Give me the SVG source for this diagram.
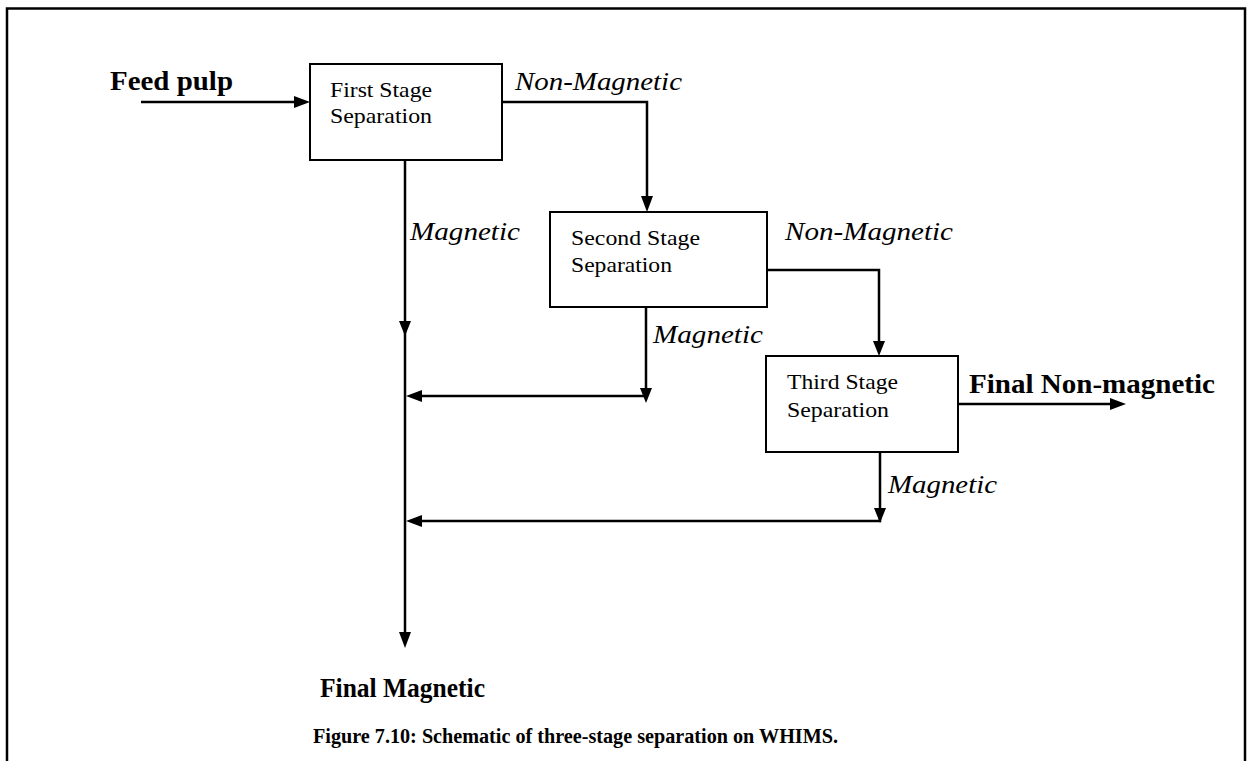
<svg xmlns="http://www.w3.org/2000/svg" width="1248" height="761" viewBox="0 0 1248 761">
<style>
text{font-family:"Liberation Serif","Times New Roman",serif;fill:#000}
.box{fill:#fff;stroke:#000;stroke-width:2}
.lbl{font-size:21px}
.it{font-size:25px;font-style:italic}
.bold{font-size:27px;font-weight:bold}
.cap{font-size:20px;font-weight:bold}
.ln{fill:none;stroke:#000;stroke-width:2.5}
.ah{fill:#000}
</style>
<rect width="1248" height="761" fill="#fff"/>
<path d="M7,761 V8.5 H1245 V761" fill="none" stroke="#000" stroke-width="2.5"/>
<g id="connectors">
<path class="ln" d="M141,102 H297"/>
<polygon class="ah" points="310,102 294,96 294,108"/>
<path class="ln" d="M502,102 H647 V199"/>
<polygon class="ah" points="647,212 641,196 653,196"/>
<path class="ln" d="M405,160 V634"/>
<polygon class="ah" points="405,336 399,321 411,321"/>
<polygon class="ah" points="405,648 399,632 411,632"/>
<path class="ln" d="M646,307 V396 H418"/>
<polygon class="ah" points="646,403 640,388 652,388"/>
<polygon class="ah" points="406,396 422,390 422,402"/>
<path class="ln" d="M767,270 H879 V343"/>
<polygon class="ah" points="879,356 873,341 885,341"/>
<path class="ln" d="M958,404 H1112"/>
<polygon class="ah" points="1126,404 1110,398 1110,410"/>
<path class="ln" d="M880,452 V521 H418"/>
<polygon class="ah" points="880,523 874,508 886,508"/>
<polygon class="ah" points="406,521 422,515 422,527"/>
<text class="it" x="515" y="90" textLength="167" lengthAdjust="spacingAndGlyphs">Non-Magnetic</text>
<text class="it" x="410" y="240" textLength="110" lengthAdjust="spacingAndGlyphs">Magnetic</text>
<text class="it" x="785" y="240" textLength="168" lengthAdjust="spacingAndGlyphs">Non-Magnetic</text>
<text class="it" x="653" y="343" textLength="110" lengthAdjust="spacingAndGlyphs">Magnetic</text>
<text class="it" x="888" y="493" textLength="109" lengthAdjust="spacingAndGlyphs">Magnetic</text>
</g>
<g id="feed"><text class="bold" x="110" y="90" textLength="123" lengthAdjust="spacingAndGlyphs">Feed pulp</text></g>
<g id="stage1">
<rect class="box" x="310" y="64" width="192" height="96"/>
<text class="lbl" x="330" y="97" textLength="102" lengthAdjust="spacingAndGlyphs">First Stage</text>
<text class="lbl" x="330" y="123" textLength="102" lengthAdjust="spacingAndGlyphs">Separation</text>
</g>
<g id="stage2">
<rect class="box" x="550" y="212" width="217" height="95"/>
<text class="lbl" x="571" y="245" textLength="129" lengthAdjust="spacingAndGlyphs">Second Stage</text>
<text class="lbl" x="571" y="272" textLength="101" lengthAdjust="spacingAndGlyphs">Separation</text>
</g>
<g id="stage3">
<rect class="box" x="766" y="356" width="192" height="96"/>
<text class="lbl" x="787" y="389" textLength="111" lengthAdjust="spacingAndGlyphs">Third Stage</text>
<text class="lbl" x="787" y="417" textLength="102" lengthAdjust="spacingAndGlyphs">Separation</text>
</g>
<g id="finalnon"><text class="bold" x="969" y="393" textLength="246" lengthAdjust="spacingAndGlyphs">Final Non-magnetic</text></g>
<g id="finalmag"><text class="bold" x="320" y="697" textLength="165" lengthAdjust="spacingAndGlyphs">Final Magnetic</text></g>
<g id="caption"><text class="cap" x="313" y="743" textLength="525" lengthAdjust="spacingAndGlyphs">Figure 7.10: Schematic of three-stage separation on WHIMS.</text></g>
</svg>
